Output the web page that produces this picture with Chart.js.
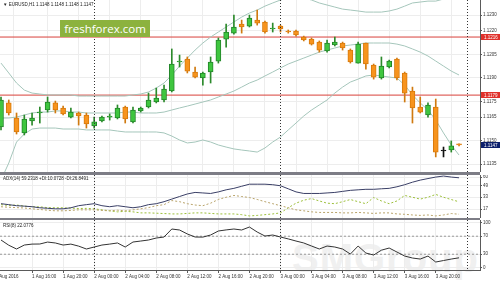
<!DOCTYPE html>
<html>
<head>
<meta charset="utf-8">
<script src="https://cdn.jsdelivr.net/npm/chart.js@4.4.1/dist/chart.umd.min.js"></script>
<style>
  html, body { margin:0; padding:0; background:#fff; }
  #wrap { position:relative; width:500px; height:282px; overflow:hidden; }
  #wrap canvas { position:absolute; left:0; }
  .sep { position:absolute; left:0; width:480px; background:#7d7d86; }
  .hdr { position:absolute; left:3px; font:9px "Liberation Sans", Arial, sans-serif; color:#222; white-space:nowrap; transform:scale(0.5); transform-origin:0 0; }
  #brand { position:absolute; left:60px; top:20px; width:90px; height:17px; background:#8cb23e; color:#fff; font:11.5px "Open Sans", sans-serif; line-height:17px; text-align:center; white-space:nowrap; }
  #mark { position:absolute; left:292px; top:236px; font:bold 40px "Liberation Sans", sans-serif; color:#f0f0f0; letter-spacing:1px; }
</style>
</head>
<body>
<div id="wrap">
  <div id="mark">SMGroup</div>
  <canvas id="main" width="500" height="172" style="top:0"></canvas>
  <canvas id="adx" width="500" height="43" style="top:175px"></canvas>
  <canvas id="rsi" width="500" height="62" style="top:220px"></canvas>
  <div class="sep" style="top:172px;height:3px"></div>
  <div class="sep" style="top:218px;height:2px"></div>
  <div class="hdr" style="top:2px">▼ EURUSD,H1 1.1148 1.1148 1.1148 1.1147</div>
  <div class="hdr" style="top:176px">ADX(14) 59.2318 +DI:10.0728 -DI:26.8491</div>
  <div class="hdr" style="top:223px">RSI(8) 22.0776</div>
  <div id="brand">freshforex.com</div>
</div>
<script>
// EURUSD H1, 1 Aug 12:00 .. 3 Aug 23:00

const timeLabels = ['1 Aug 2016','1 Aug 16:00','1 Aug 20:00','2 Aug 00:00','2 Aug 04:00','2 Aug 08:00',
  '2 Aug 12:00','2 Aug 16:00','2 Aug 20:00','3 Aug 00:00','3 Aug 04:00','3 Aug 08:00','3 Aug 12:00',
  '3 Aug 16:00','3 Aug 20:00'];
const timeLabelBars = [-0.7, 4, 8, 12, 16, 20, 24, 28, 32, 36, 40, 44, 48, 52, 56];
const daySeparators = [12, 36, 60];

const opens = [1.11587,1.11740,1.11644,1.11549,1.11625,1.11676,1.11695,1.11740,1.11708,1.11650,
  1.11676,1.11663,1.11593,1.11625,1.11650,1.11644,1.11714,1.11619,1.11689,1.11714,
  1.11746,1.11759,1.11816,1.12001,1.12020,1.11937,1.11899,1.11937,1.12007,1.12147,
  1.12185,1.12243,1.12230,1.12268,1.12256,1.12211,1.12230,1.12198,1.12198,1.12160,
  1.12147,1.12128,1.12071,1.12109,1.12122,1.12077,1.11994,1.12122,1.11982,1.11899,
  1.11969,1.12020,1.11931,1.11816,1.11714,1.11663,1.11714,1.11436,1.11440,1.11479];
const highs = [1.11778,1.11759,1.11676,1.11663,1.11676,1.11714,1.11778,1.11752,1.11720,1.11708,
  1.11682,1.11676,1.11650,1.11657,1.11670,1.11727,1.11720,1.11714,1.11714,1.11803,
  1.11835,1.11854,1.12084,1.12045,1.12033,1.11969,1.11937,1.12033,1.12154,1.12243,
  1.12300,1.12268,1.12300,1.12332,1.12262,1.12249,1.12236,1.12205,1.12205,1.12166,
  1.12154,1.12135,1.12141,1.12160,1.12128,1.12084,1.12128,1.12122,1.11988,1.12033,
  1.12013,1.12026,1.11937,1.11841,1.11778,1.11740,1.11765,1.11459,1.11498,1.11479];
const lows = [1.11568,1.11663,1.11542,1.11536,1.11599,1.11612,1.11682,1.11676,1.11663,1.11644,
  1.11599,1.11580,1.11580,1.11619,1.11631,1.11638,1.11612,1.11612,1.11682,1.11708,
  1.11740,1.11746,1.11810,1.11969,1.11931,1.11899,1.11854,1.11867,1.11994,1.12096,
  1.12179,1.12185,1.12224,1.12236,1.12185,1.12192,1.12192,1.12185,1.12166,1.12135,
  1.12109,1.12064,1.12064,1.12103,1.12077,1.11994,1.11994,1.11956,1.11892,1.11892,
  1.11963,1.11886,1.11746,1.11612,1.11676,1.11650,1.11396,1.11396,1.11427,1.11466];
const closes = [1.11759,1.11676,1.11555,1.11638,1.11644,1.11682,1.11746,1.11695,1.11670,1.11682,
  1.11657,1.11606,1.11619,1.11650,1.11657,1.11708,1.11638,1.11695,1.11708,1.11759,
  1.11771,1.11829,1.11988,1.12007,1.11943,1.11905,1.11931,1.12001,1.12141,1.12192,
  1.12224,1.12224,1.12281,1.12249,1.12192,1.12217,1.12211,1.12192,1.12173,1.12141,
  1.12115,1.12077,1.12122,1.12128,1.12090,1.12001,1.12115,1.11988,1.11905,1.11975,
  1.12007,1.11899,1.11803,1.11708,1.11682,1.11727,1.11427,1.11434,1.11466,1.11472];

// Bollinger bands
const bbUpper = [1.11994,1.11931,1.11867,1.11822,1.11803,1.11797,1.11791,1.11791,1.11791,1.11791,
  1.11784,1.11784,1.11784,1.11784,1.11784,1.11784,1.11784,1.11791,1.11797,1.11810,
  1.11835,1.11867,1.11918,1.11975,1.12026,1.12077,1.12122,1.12160,1.12192,1.12224,
  1.12256,1.12287,1.12313,1.12332,1.12357,1.12377,1.12396,1.12408,1.12415,1.12408,
  1.12396,1.12377,1.12364,1.12351,1.12338,1.12332,1.12326,1.12319,1.12319,1.12319,
  1.12326,1.12338,1.12357,1.12377,1.12383,1.12389,1.12389,1.12402,1.12415,1.12428];
const bbMiddle = [1.11644,1.11644,1.11650,1.11663,1.11676,1.11682,1.11682,1.11689,1.11689,1.11682,
  1.11682,1.11676,1.11676,1.11676,1.11676,1.11676,1.11682,1.11682,1.11676,1.11676,
  1.11676,1.11682,1.11695,1.11708,1.11720,1.11733,1.11746,1.11759,1.11778,1.11797,
  1.11816,1.11841,1.11867,1.11886,1.11912,1.11937,1.11963,1.11988,1.12007,1.12026,
  1.12045,1.12064,1.12077,1.12090,1.12103,1.12109,1.12115,1.12122,1.12122,1.12122,
  1.12122,1.12115,1.12103,1.12084,1.12064,1.12039,1.12007,1.11975,1.11943,1.11918];
const bbLower = [1.11249,1.11357,1.11491,1.11542,1.11574,1.11580,1.11580,1.11580,1.11574,1.11574,
  1.11574,1.11568,1.11568,1.11568,1.11568,1.11561,1.11555,1.11555,1.11555,1.11555,
  1.11555,1.11549,1.11529,1.11504,1.11485,1.11491,1.11504,1.11491,1.11472,1.11459,
  1.11447,1.11440,1.11434,1.11427,1.11453,1.11491,1.11523,1.11568,1.11612,1.11657,
  1.11695,1.11727,1.11759,1.11803,1.11841,1.11873,1.11892,1.11912,1.11918,1.11912,
  1.11905,1.11899,1.11854,1.11791,1.11740,1.11695,1.11631,1.11549,1.11472,1.11408];

const redLevels = [1.1216, 1.1179];
const lastPrice = 1.1147;
const priceTicks = [1.1230, 1.1220, 1.1205, 1.1190, 1.1175, 1.1165, 1.1150, 1.1135];

const adxMain = [24.3,23,21.6,21,20.2,18.8,18.1,17.4,17.4,18.8,
  21.6,23,24.3,21.6,20.2,21.6,20.2,18.8,20.2,23,
  24.3,27,30.5,34,37.4,39.5,38.8,38.1,40.2,43,
  45,47.8,50.6,50.6,50.6,49.9,48.5,44.4,40.2,38.1,
  38.1,38.1,38.8,39.5,40.9,42.3,43,43.7,43.7,44.4,
  45,47.1,49.9,53.3,56.1,58.2,60.2,61.6,60.2,59.2318];
const adxPlusDI = [20.2,19.5,19,18.5,17.4,16.5,15.5,14.7,14.7,15.2,
  16,16,16,15.2,14.7,15.5,14.7,16,17.4,19,
  21.6,23,28.5,27,24.3,22.5,21.6,25,30,33,
  35.4,34,32.6,30,27,24.3,21.6,18.8,16,14.7,
  13.3,12.5,12.5,12.5,11.9,11.9,12.5,11.9,11.2,11.9,
  11.9,10.5,10,9.1,8.5,9.1,7.8,9.1,11,10.0728];
const adxMinusDI = [23,22,22.5,21,20.2,20,19,18.8,18.8,18.3,
  17.8,18,17.4,16,14.7,13.3,14,13.3,11.9,11.9,
  11.5,11,10.5,10.5,11.2,11.9,11.9,11.2,10.5,10.5,
  10.5,9.5,7.8,8.5,9.5,10.5,11.9,18.8,25,29,
  31.2,28,25,24.3,27,29.9,27,24.3,32.6,28,
  24.3,28,35.4,33,30.5,33,36.8,33,29.9,26.8491];
const adxTicks = [60, 49, 33, 17];

const rsi = [61.6,50,41.6,50.4,52.5,52.7,57,55,50.4,52.5,
  48,41.6,46,50.4,52.5,55,46,57.1,59.3,61.6,
  66,68.2,86,83.8,75,68.2,68,72.7,81.6,84,
  86,83.8,90.4,79.3,70.4,72.7,68.2,64,59.3,55,
  48.2,41.6,48.2,46,41.6,30.4,48.2,32.7,28.2,39,
  43.8,34.9,26,21.6,19.3,26,12.7,16,19.3,22.0776];
const rsiLevels = [70, 30];
const rsiTicks = [100, 70, 30, 0];

// ---------- common bits
const xMin = -0.13, xMax = 61.7;
const fontFam = '"Liberation Sans", Arial, sans-serif';
const gridColor = '#ededed';
const axisColor = '#5a5a5a';

function xAxis(showLabels) {
  return {
    type: 'linear', min: xMin, max: xMax, offset: false,
    grid: { color: gridColor, drawTicks: showLabels, tickLength: 3, tickColor: axisColor },
    border: { display: showLabels, color: axisColor },
    ticks: {
      display: showLabels, autoSkip: false, maxRotation: 0, minRotation: 0, align: 'start',
      padding: 1, color: '#333', font: { size: 4.5, family: fontFam },
      callback: (v, i) => timeLabels[i]
    },
    afterBuildTicks: s => { s.ticks = timeLabelBars.map(v => ({ value: v })); },
    afterFit: s => { s.height = showLabels ? 12 : 0; s.paddingLeft = 0; s.paddingRight = 0; }
  };
}

function yAxis(min, max, ticks, fmt) {
  return {
    position: 'right', min: min, max: max,
    grid: { color: gridColor, drawTicks: true, tickLength: 2, tickColor: axisColor },
    border: { color: axisColor },
    ticks: { color: '#333', padding: 1, font: { size: 4.5, family: fontFam }, callback: fmt },
    afterBuildTicks: s => { s.ticks = ticks.map(v => ({ value: v })); },
    afterFit: s => { s.width = 20; s.paddingTop = 0; s.paddingBottom = 0; }
  };
}

const daySepPlugin = {
  id: 'daySep',
  afterDatasetsDraw(chart) {
    const { ctx, chartArea } = chart;
    const xs = chart.scales.x;
    ctx.save();
    ctx.strokeStyle = '#333';
    ctx.lineWidth = 1;
    ctx.setLineDash([1, 2]);
    daySeparators.forEach(d => {
      const x = Math.round(xs.getPixelForValue(d)) + 0.5;
      ctx.beginPath();
      ctx.moveTo(x, chartArea.top);
      ctx.lineTo(x, chartArea.bottom);
      ctx.stroke();
    });
    ctx.restore();
  }
};

function levelLine(v, color, dash) {
  return {
    type: 'line', data: [{ x: xMin, y: v }, { x: xMax, y: v }],
    borderColor: color, borderWidth: 1, borderDash: dash || [], pointRadius: 0, order: 5
  };
}

function seriesLine(arr, color, dash) {
  return {
    type: 'line', data: arr.map((v, i) => ({ x: i, y: v })),
    borderColor: color, borderWidth: 1, borderDash: dash || [], pointRadius: 0, tension: 0, order: 3
  };
}

const baseOpts = {
  responsive: false, animation: false, devicePixelRatio: 1,
  layout: { padding: 0 },
  plugins: { legend: { display: false }, tooltip: { enabled: false } }
};

// ---------- main price chart
const kind = opens.map((o, i) => Math.abs(closes[i] - o) < 0.00003 ? 'doji' : (closes[i] > o ? 'up' : 'down'));
const bodyFill = { up: '#3fc63f', down: '#f7941d', doji: '#111' };
const bodyEdge = { up: '#23862a', down: '#d87a0c', doji: '#111' };
const wickCol = { up: '#2c8a2c', down: '#d07a10', doji: '#111' };

const priceTagPlugin = {
  id: 'priceTags',
  afterDraw(chart) {
    const { ctx } = chart;
    const ys = chart.scales.y;
    const x0 = chart.chartArea.right + 1;
    const tag = (v, bg) => {
      const y = Math.round(ys.getPixelForValue(v));
      ctx.fillStyle = bg;
      ctx.fillRect(x0, y - 3, 19, 6);
      ctx.fillStyle = '#fff';
      ctx.font = '4.5px ' + fontFam;
      ctx.textBaseline = 'middle';
      ctx.textAlign = 'left';
      ctx.fillText(v.toFixed(4), x0 + 3, y + 0.5);
    };
    ctx.save();
    redLevels.forEach(v => tag(v, '#e0302a'));
    tag(lastPrice, '#0c1f6b');
    ctx.restore();
  }
};

new Chart(document.getElementById('main'), {
  type: 'bar',
  data: {
    datasets: [
      {
        data: opens.map((o, i) => ({ x: i, y: [o, closes[i]] })),
        backgroundColor: kind.map(k => bodyFill[k]),
        borderColor: kind.map(k => bodyEdge[k]),
        borderWidth: 1, borderSkipped: false, barThickness: 5, minBarLength: 1,
        grouped: false, order: 0
      },
      {
        data: lows.map((l, i) => ({ x: i, y: [l, highs[i]] })),
        backgroundColor: kind.map(k => wickCol[k]),
        borderWidth: 0, barThickness: 1, grouped: false, order: 1
      },
      seriesLine(bbUpper, '#a5c6bb'),
      seriesLine(bbMiddle, '#a5c6bb'),
      seriesLine(bbLower, '#a5c6bb'),
      ...redLevels.map(v => levelLine(v, '#d8403a'))
    ]
  },
  options: {
    ...baseOpts,
    scales: {
      x: xAxis(false),
      y: yAxis(1.1130, 1.12396, priceTicks, v => v.toFixed(4))
    }
  },
  plugins: [daySepPlugin, priceTagPlugin]
});

// ---------- ADX window
new Chart(document.getElementById('adx'), {
  type: 'line',
  data: {
    datasets: [
      seriesLine(adxMain, '#3a3f66'),
      seriesLine(adxPlusDI, '#b8a36a', [2, 2]),
      seriesLine(adxMinusDI, '#9cbf3a', [2, 2])
    ]
  },
  options: {
    ...baseOpts,
    scales: {
      x: xAxis(false),
      y: yAxis(5, 63, adxTicks, v => String(v))
    }
  },
  plugins: [daySepPlugin]
});

// ---------- RSI window
new Chart(document.getElementById('rsi'), {
  type: 'line',
  data: {
    datasets: [
      seriesLine(rsi, '#333'),
      ...rsiLevels.map(v => levelLine(v, '#9a9a9a', [2, 2]))
    ]
  },
  options: {
    ...baseOpts,
    scales: {
      x: xAxis(true),
      y: yAxis(-5, 106, rsiTicks, v => String(v))
    }
  },
  plugins: [daySepPlugin]
});
</script>
</body>
</html>
